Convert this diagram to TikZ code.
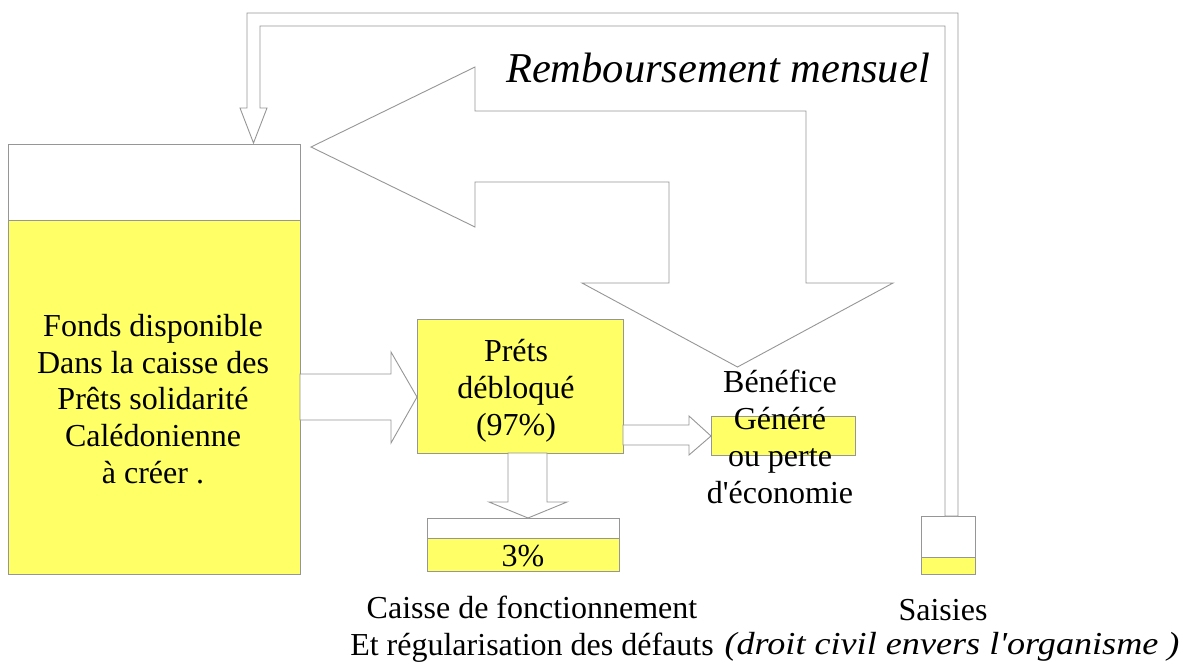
\documentclass[tikz,border=0pt]{standalone}
\usepackage{fontspec}
\usepackage{graphicx}
\setmainfont{Liberation Serif}
\definecolor{yel}{RGB}{255,255,102}
\definecolor{linec}{RGB}{150,150,150}
\begin{document}
\begin{tikzpicture}[x=1pt,y=-1pt,
  box/.style={draw=linec,line width=0.9pt,inner sep=0pt,outer sep=0pt,anchor=north west},
  arr/.style={draw=linec,line width=0.9pt,fill=white,line join=miter},
  txt/.style={font=\fontsize{32}{36.8}\selectfont,align=center,inner sep=0pt}]
\useasboundingbox (0,0) rectangle (1189,664);
% Fonds disponible
\node[box,fill=white,minimum width=292pt,minimum height=76pt] (fondsTop) at (8,144) {};
\node[box,fill=yel,minimum width=292pt,minimum height=354pt] (fonds) at (8,220) {};
\node[txt] (fondsTxt) at (153,399) {Fonds disponible\\Dans la caisse des\\Prêts solidarité\\Calédonienne\\à créer .};
% Prets
\node[box,fill=yel,minimum width=206pt,minimum height=134pt] (prets) at (417,319) {};
\node[txt] (pretsTxt) at (516,391) {Préts\\débloqué\\(97\%)};
% 3%
\node[box,fill=white,minimum width=192pt,minimum height=20pt] (caisseTop) at (427,518) {};
\node[box,fill=yel,minimum width=192pt,minimum height=33pt] (caisse) at (427,538) {};
\node[txt] (pctTxt) at (523,556) {3\%};
% Benefice
\node[box,fill=yel,minimum width=144pt,minimum height=39pt] (benef) at (711,416) {};
\node[txt] (benefTxt) at (780,437) {Bénéfice\\Généré\\ou perte\\d\textquotesingle économie};
% Saisies box
\node[box,fill=white,minimum width=54pt,minimum height=41pt] (saisTop) at (921,516) {};
\node[box,fill=yel,minimum width=54pt,minimum height=17pt] (sais) at (921,557) {};
% arrow Fonds -> Prets
\draw[arr] (fonds.east |- 0,374) -- (391,374) -- (391,352) -- (prets.west |- 0,397) -- (391,443) -- (391,420) -- (fonds.east |- 0,420) -- cycle;
% arrow Prets -> Benef
\draw[arr] (prets.east |- 0,425) -- (689,425) -- (689,416) -- (benef.west |- 0,436) -- (689,455) -- (689,445) -- (prets.east |- 0,445) -- cycle;
% arrow Prets -> caisse
\draw[arr] (prets.south -| 508,0) -- (508,502) -- (489,502) -- (caisseTop.north -| 528,0) -- (567,502) -- (547,502) -- (prets.south -| 547,0) -- cycle;
% big bent arrow
\draw[arr] (311,147) -- (475,67) -- (475,111) -- (806,111) -- (806,283) -- (893,283) -- (737.5,367) -- (582,283) -- (669,283) -- (669,182) -- (475,182) -- (475,227) -- cycle;
% top return arrow
\coordinate (tip) at (253.5,143);
\draw[arr] (saisTop.north -| 945,0) -- (945,26) -- (260,26) -- (260,108) -- (267,108) -- (tip) -- (240,108) -- (247,108) -- (247,13) -- (958,13) -- (saisTop.north -| 958,0) -- cycle;
% texts
\node[txt,font=\fontsize{42.5}{48}\selectfont\itshape] (remb) at (718,68) {Remboursement mensuel};
\node[txt] (caisseTxt) at (532,629) {Caisse de fonctionnement\\Et régularisation des défauts};
\node[txt] (saisTxt) at (943,610) {Saisies};
\node[txt,font=\fontsize{32}{36.8}\selectfont\itshape] (droitTxt) at (952,647) {\scalebox{1.13}[1]{(droit civil envers l\textquotesingle organisme )}};
\end{tikzpicture}
\end{document}
